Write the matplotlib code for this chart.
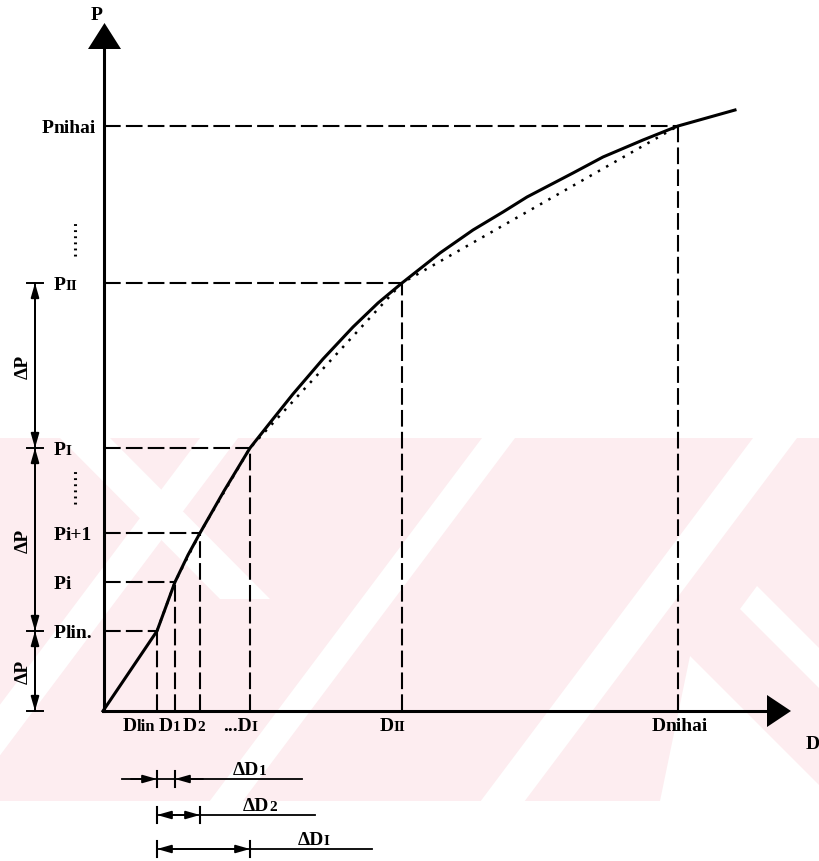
import numpy as np
import matplotlib.pyplot as plt

# marked points on the P-D curve
P_names = ['P', 'P', 'P', 'P', 'P', 'P']
P_subs = ['lin.', 'i', 'i+1', 'I', 'II', 'nihai']
D_names = ['D', 'D', 'D', '...D', 'D', 'D']
D_subs = ['lin', '1', '2', 'I', 'II', 'nihai']
D_pts = [54, 72, 97, 147, 299, 575]
P_pts = [80, 129, 178, 263, 428, 585]

# solid curve
curve_D = [0, 54, 72, 85, 97, 121, 147, 170, 190, 220, 250, 275, 299,
           337, 370, 400, 424, 470, 500, 540, 575, 632]
curve_P = [0, 80, 129, 156, 178, 220, 263, 292, 317, 352, 384, 408, 428,
           458, 481, 499, 514, 538, 554, 571, 585, 601]

# dimension marks
dP_levels = [428, 263, 80, 0]
dD_ends = [72, 97, 147]
dD_subs = ['1', '2', 'I']

plt.rcParams['font.family'] = ['Liberation Serif', 'DejaVu Serif']
plt.rcParams['font.weight'] = 'bold'

fig = plt.figure(figsize=(8.2, 8.62), dpi=100)

# faint watermark behind the drawing
bg = fig.add_axes([0, 0, 1, 1])
bg.set_xlim(0, 820)
bg.set_ylim(862, 0)
bg.axis('off')
pink = '#fdedf0'
bg.add_patch(plt.Rectangle((0, 439), 820, 363, color=pink, lw=0))
y0, y1 = 439, 802
k = 0.75 * (y1 - y0)
for x0, x1 in [(200, 238), (482, 515), (753, 797)]:
    bg.fill([x0, x1, x1 - k, x0 - k], [y0, y0, y1, y1], color='white', lw=0)
bg.fill([60, 110, 270, 220], [439, 439, 600, 600], color='white', lw=0)
bg.fill([757, 820, 820, 740], [587, 650, 690, 610], color='white', lw=0)
bg.fill([690, 820, 820, 660], [657, 787, 802, 802], color='white', lw=0)

ax = fig.add_axes([0, 0, 1, 1])
ax.patch.set_alpha(0)
ax.axis('off')
ax.set_xlim(-103, 717)
ax.set_ylim(-150, 712)

lw_axis = 2.2
dash = (0, (8, 2.5))

# axes with arrow heads
ax.plot([1, 1], [0, 664], color='k', lw=lw_axis)
ax.plot([0, 666], [0, 0], color='k', lw=lw_axis)
ax.fill([-15, 18, 1.5], [662, 662, 688], color='k', lw=0)
ax.fill([664, 664, 688], [-16, 16, 0], color='k', lw=0)
ax.text(-6, 697, 'P', ha='center', va='center', fontsize=14)
ax.text(703, -33, 'D', ha='left', va='center', fontsize=14)

# guide lines
for d, p in zip(D_pts, P_pts):
    ax.plot([1, d], [p, p], color='k', lw=1.5, ls=dash)
    ax.plot([d, d], [0, p], color='k', lw=1.5, ls=dash)

# chords and curve
ax.plot(D_pts, P_pts, color='k', lw=1.8, ls=(0, (1, 2.8)))
ax.plot(curve_D, curve_P, color='k', lw=2.2, solid_joinstyle='round')


def label(x, y, head, tail, tail_size):
    ax.text(x, y, head, ha='right', va='baseline', fontsize=14)
    ax.text(x, y, tail, ha='left', va='baseline', fontsize=tail_size)


# P labels
P_x = [-37, -37, -37, -37, -37, -49]
for x, p, h, t in zip(P_x, P_pts, P_names, P_subs):
    size = 14 if t[0].islower() else 11
    label(x, p - 6, h, t, size)

# D labels
D_x = [34, 70, 94, 149, 291, 563]
D_size = [12, 11, 11, 11, 11, 14]
for x, h, t, s in zip(D_x, D_names, D_subs, D_size):
    label(x, -19, h, t, s)

# vertical ellipses on the P axis
for a, b in [(455, 490), (207, 242)]:
    ax.plot([-28, -28], [a, b], color='k', lw=2.2, ls=(0, (0.6, 1.4)))

# ΔP dimension line
xd = -68
ax.plot([xd, xd], [dP_levels[0], dP_levels[-1]], color='k', lw=1.4)
for p in dP_levels:
    ax.plot([xd - 8, xd + 8], [p, p], color='k', lw=1.4)
for a, b in zip(dP_levels[:-1], dP_levels[1:]):
    ax.annotate('', xy=(xd, a), xytext=(xd, b),
                arrowprops=dict(arrowstyle='<|-|>,head_length=0.7,head_width=0.2',
                                color='k', lw=1.4, shrinkA=0, shrinkB=0, mutation_scale=12))
    ax.text(xd - 12, (a + b) / 2, 'ΔP', rotation=90, ha='center', va='center', fontsize=14)

# ΔD dimension lines
d0 = D_pts[0]
rows = [-68, -104, -138]
line_end = [199, 212, 269]
lab_x = [156, 166, 221]
for i, (d, y, e, lx, s) in enumerate(zip(dD_ends, rows, line_end, lab_x, dD_subs)):
    if i == 0:
        ax.plot([19, e], [y, y], color='k', lw=1.3)
        ax.annotate('', xy=(d0, y), xytext=(28, y),
                    arrowprops=dict(arrowstyle='-|>,head_length=0.7,head_width=0.2', color='k',
                                    lw=1.3, shrinkA=0, shrinkB=0, mutation_scale=12))
        ax.annotate('', xy=(d, y), xytext=(100, y),
                    arrowprops=dict(arrowstyle='-|>,head_length=0.7,head_width=0.2', color='k',
                                    lw=1.3, shrinkA=0, shrinkB=0, mutation_scale=12))
    else:
        ax.plot([d0, e], [y, y], color='k', lw=1.3)
        ax.annotate('', xy=(d0, y), xytext=(d, y),
                    arrowprops=dict(arrowstyle='<|-|>,head_length=0.7,head_width=0.2', color='k',
                                    lw=1.3, shrinkA=0, shrinkB=0, mutation_scale=12))
    for x in (d0, d):
        ax.plot([x, x], [y - 8, y + 8], color='k', lw=1.5)
    label(lx, y + 5, 'ΔD', s, 11)

fig.savefig('out.png', dpi=100)
